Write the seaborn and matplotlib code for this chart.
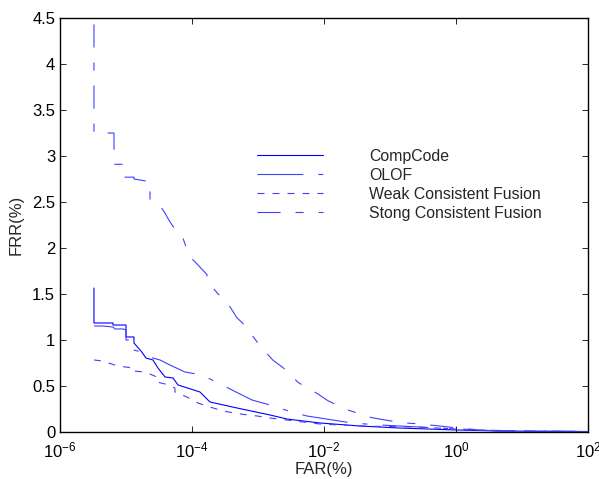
import matplotlib
matplotlib.use("Agg")
import matplotlib.pyplot as plt
import seaborn as sns
import pandas as pd

# ---- data (FAR in %, FRR in %) ----
compcode_far = [3.27e-6, 3.27e-6, 6.35e-6, 6.35e-6, 1.0e-5, 1.0e-5, 1.32e-5, 1.32e-5,
                1.69e-5, 2.01e-5, 2.56e-5, 3.05e-5, 3.90e-5, 5.15e-5, 6.14e-5, 1.32e-4,
                1.87e-4, 4.81e-4, 1.52e-3, 2.75e-3, 8.69e-3, 3.51e-2, 0.142, 1.0, 4.64, 100]
compcode_frr = [1.565, 1.185, 1.185, 1.163, 1.163, 1.033, 1.033, 0.967, 0.880, 0.804,
                0.783, 0.696, 0.598, 0.587, 0.511, 0.435, 0.326, 0.261, 0.185, 0.141,
                0.098, 0.065, 0.043, 0.022, 0.011, 0.005]

olof_far = [3.27e-6, 4.49e-6, 6.35e-6, 6.81e-6, 9.01e-6, 1.0e-5, 1.0e-5, 1.32e-5, 1.32e-5,
            1.69e-5, 2.01e-5, 2.56e-5, 3.27e-5, 4.64e-5, 7.83e-5, 1.42e-4, 4.98e-4, 8.11e-4,
            1.52e-3, 3.27e-3, 5.52e-3, 2.65e-2, 7.05e-2, 0.285, 1.0, 4.64, 100]
olof_frr = [1.152, 1.152, 1.141, 1.120, 1.120, 1.109, 1.0, 1.0, 0.891, 0.870, 0.837, 0.804,
            0.783, 0.728, 0.652, 0.620, 0.424, 0.348, 0.293, 0.217, 0.174, 0.098, 0.076,
            0.054, 0.033, 0.011, 0.005]

weak_far = [3.27e-6, 4.33e-6, 7.57e-6, 1.28e-5, 1.28e-5, 1.94e-5, 2.95e-5, 2.95e-5, 3.90e-5,
            5.52e-5, 5.52e-5, 8.39e-5, 1.23e-4, 1.87e-4, 2.95e-4, 5.33e-4, 9.66e-4, 1.52e-3,
            2.75e-3, 8.69e-3, 3.51e-2, 0.256, 1.0, 4.64, 100]
weak_frr = [0.783, 0.772, 0.717, 0.696, 0.663, 0.652, 0.598, 0.543, 0.522, 0.478, 0.435,
            0.380, 0.315, 0.272, 0.228, 0.196, 0.174, 0.152, 0.130, 0.087, 0.065, 0.054,
            0.033, 0.011, 0.005]

strong_far = [3.27e-6, 3.27e-6, 6.58e-6, 6.58e-6, 9.33e-6, 9.33e-6, 1.32e-5, 1.32e-5,
              1.94e-5, 2.31e-5, 2.31e-5, 3.05e-5, 3.27e-5, 3.90e-5, 4.49e-5, 5.93e-5,
              7.05e-5, 8.39e-5, 9.33e-5, 1.11e-4, 1.69e-4, 1.69e-4, 2.23e-4, 2.95e-4,
              3.77e-4, 4.81e-4, 5.73e-4, 7.57e-4, 1.15e-3, 1.69e-3, 2.39e-3, 4.04e-3,
              6.14e-3, 7.83e-3, 1.15e-2, 2.08e-2, 3.39e-2, 4.18e-2, 7.05e-2, 0.152,
              0.256, 0.573, 1.0, 2.31, 9.33, 100]
strong_frr = [4.43, 3.25, 3.25, 2.91, 2.91, 2.77, 2.77, 2.75, 2.73, 2.73, 2.52, 2.48, 2.46,
              2.38, 2.30, 2.17, 2.14, 1.98, 1.90, 1.85, 1.71, 1.65, 1.54, 1.44, 1.36, 1.24,
              1.19, 1.08, 0.91, 0.78, 0.70, 0.54, 0.46, 0.42, 0.34, 0.25, 0.20, 0.17, 0.14,
              0.10, 0.09, 0.065, 0.045, 0.022, 0.011, 0.005]

labels = ["CompCode", "OLOF", "Weak Consistent Fusion", "Stong Consistent Fusion"]
x_ticks = [1e-6, 1e-4, 1e-2, 1e0, 1e2]
y_ticks = [0, 0.5, 1, 1.5, 2, 2.5, 3, 3.5, 4, 4.5]
y_tick_labels = ["0", "0.5", "1", "1.5", "2", "2.5", "3", "3.5", "4", "4.5"]

# ---- style ----
sns.set_style("ticks")
plt.rcParams["font.family"] = ["Liberation Sans", "DejaVu Sans"]
plt.rcParams["mathtext.fontset"] = "custom"
plt.rcParams["mathtext.rm"] = "Liberation Sans"
plt.rcParams["lines.scale_dashes"] = False
plt.rcParams["axes.unicode_minus"] = False

fig = plt.figure(figsize=(5.99, 4.79), dpi=100)
ax = fig.add_axes([60 / 599, 47 / 479, 528 / 599, 414 / 479])

series = [
    (compcode_far, compcode_frr, "#0000ff", "-"),
    (olof_far, olof_frr, "#4040ff", (0, (33, 10.8, 3.6, 10.8))),
    (weak_far, weak_frr, "#4040ff", (0, (5, 5.8))),
    (strong_far, strong_frr, "#4040ff", (0, (16.6, 10.8, 5.8, 10.8))),
]
for (fx, fy, col, ls), lab in zip(series, labels):
    df = pd.DataFrame({"FAR": fx, "FRR": fy})
    sns.lineplot(data=df, x="FAR", y="FRR", ax=ax, color=col, linewidth=0.8,
                 estimator=None, sort=False, label=lab, linestyle=ls)

ax.set_xscale("log")
ax.set_xlim(1e-6, 1e2)
ax.set_ylim(0, 4.5)
ax.set_xticks(x_ticks)
ax.set_yticks(y_ticks)
ax.set_yticklabels(y_tick_labels)
ax.minorticks_off()
ax.tick_params(which="both", direction="in", top=True, right=True, length=4,
               width=0.6, labelsize=12, colors="black")
ax.tick_params(axis="x", pad=6)
ax.tick_params(axis="y", pad=3.5)
for s in ax.spines.values():
    s.set_linewidth(1.0)
    s.set_color("black")
ax.set_xlabel("FAR(%)", fontsize=12, labelpad=1)
ax.set_ylabel("FRR(%)", fontsize=12, labelpad=6)

leg = ax.legend(loc="upper left", bbox_to_anchor=((257 - 60) / 528, (432 - 148.5) / 414),
                frameon=False, fontsize=11.4, handlelength=4.17, handletextpad=2.9,
                labelspacing=0.26, borderpad=0, borderaxespad=0)

fig.savefig("out.png", dpi=100)
